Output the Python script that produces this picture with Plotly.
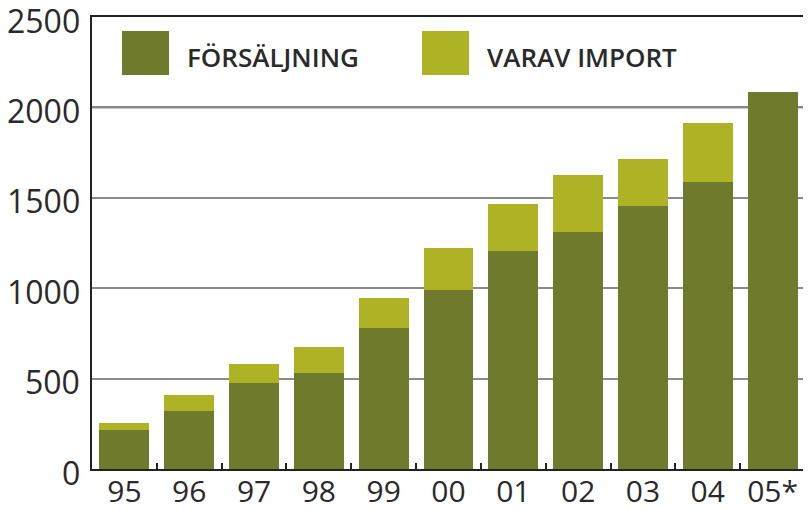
import plotly.graph_objects as go

# -------------------- DATA --------------------
years = ['95', '96', '97', '98', '99', '00', '01', '02', '03', '04', '05*']
forsaljning = [255, 412, 580, 673, 948, 1221, 1468, 1625, 1715, 1915, 2083]
varav_import = [40, 92, 103, 144, 170, 233, 260, 314, 258, 329, 0]
y_ticks = [0, 500, 1000, 1500, 2000, 2500]

dark = '#6f7a2d'
light = '#adb324'
tick_font = dict(family='Open Sans', size=32, color='#2a2a2a')

# dark part = sales minus the import share
egen = [f - i for f, i in zip(forsaljning, varav_import)]

fig = go.Figure()
fig.add_trace(go.Bar(x=years, y=egen, name='FÖRSÄLJNING',
                     marker=dict(color=dark, line=dict(width=0))))
fig.add_trace(go.Bar(x=years, y=varav_import, name='VARAV IMPORT',
                     marker=dict(color=light, line=dict(width=0))))

# -------------------- LEGEND (drawn by hand, big squares) --------------------
# page body has an 8px margin, so the figure is laid out 8px smaller
L, B, W, H = 84, 461, 713, 452
legend_items = [('FÖRSÄLJNING', dark, 114), ('VARAV IMPORT', light, 414)]
for label, color, x0 in legend_items:
    fig.add_shape(type='rect', xref='paper', yref='paper',
                  x0=(x0 - L) / W, x1=(x0 + 47 - L) / W,
                  y0=(B - 67) / H, y1=(B - 23) / H,
                  fillcolor=color, line=dict(width=0))
    fig.add_annotation(x=(x0 + 63 - L) / W, y=(B - 49) / H,
                       xref='paper', yref='paper', text=label, showarrow=False,
                       xanchor='left', yanchor='middle',
                       font=dict(family='Open Sans', size=26, color='#2a2a2a', weight=600))

# y tick labels sit a little below their gridlines in the original
for v in y_ticks:
    fig.add_annotation(x=0, y=v, xref='paper', yref='y', text=str(v), showarrow=False,
                       xanchor='right', yanchor='middle', xshift=-10, yshift=-3,
                       font=tick_font)

# darker line at 2000
fig.add_shape(type='line', xref='paper', yref='y', x0=0, x1=1, y0=2000, y1=2000,
              line=dict(color='#222222', width=1.5), layer='between')

fig.update_layout(
    barmode='stack',
    bargap=0.23,
    showlegend=False,
    width=803, height=502,
    margin=dict(l=84, r=6, t=9, b=41),
    plot_bgcolor='white', paper_bgcolor='white',
)
fig.update_yaxes(range=[0, 2500], tickvals=y_ticks, showticklabels=False,
                 showgrid=True, gridcolor='#8a8a8a', gridwidth=1.5,
                 showline=True, linecolor='#222222', linewidth=2, mirror=True,
                 ticks='', zeroline=False, automargin=False)
fig.update_xaxes(tickfont=dict(family='Open Sans', size=30, color='#2a2a2a'),
                 showline=True, linecolor='#222222', linewidth=2,
                 mirror=True, ticks='inside', tickson='boundaries', ticklen=6,
                 tickcolor='#222222', tickwidth=2, automargin=False,
                 ticklabelstandoff=-5, ticklabeloverflow='allow')

fig.write_html("out.html")
